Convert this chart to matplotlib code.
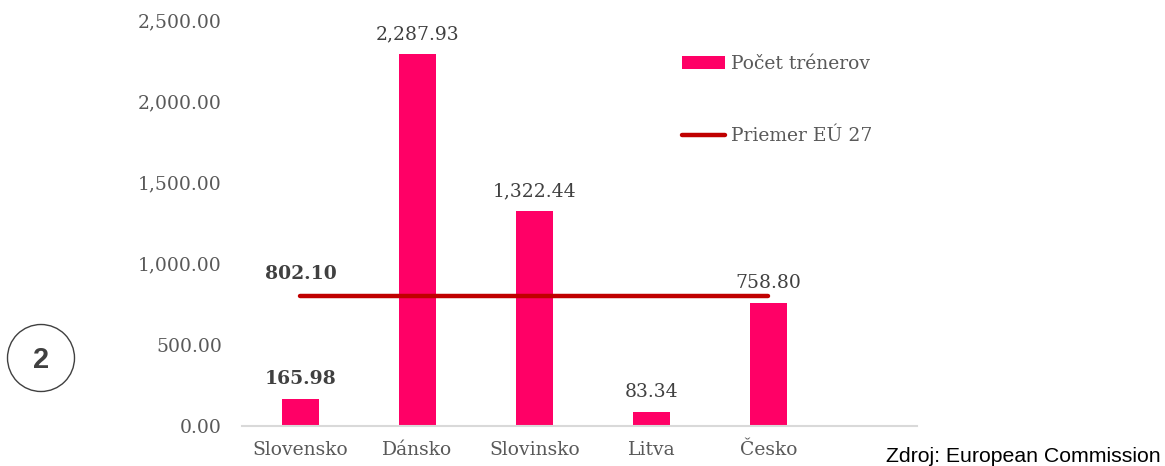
import matplotlib.pyplot as plt
from matplotlib.patches import Circle
from matplotlib.ticker import FuncFormatter

countries = ["Slovensko", "Dánsko", "Slovinsko", "Litva", "Česko"]
coaches = [165.98, 2287.93, 1322.44, 83.34, 758.80]
eu_avg = 802.10
y_ticks = [0, 500, 1000, 1500, 2000, 2500]

BAR_COLOR = "#FF0066"
LINE_COLOR = "#C00000"
TEXT_COLOR = "#595959"
SERIF = "DejaVu Serif"
FS = 13.5

fig = plt.figure(figsize=(11.65, 4.66), dpi=100)
ax = fig.add_axes([0.2077, 0.0858, 0.5794, 0.8712])

x = list(range(len(countries)))
bars = ax.bar(x, coaches, width=0.31, color=BAR_COLOR, label="Počet trénerov", zorder=2)
line, = ax.plot([x[0], x[-1]], [eu_avg, eu_avg], color=LINE_COLOR, lw=3.2,
                solid_capstyle="round", label="Priemer EÚ 27", zorder=3)

ax.set_xlim(-0.5, 5.27)
ax.set_ylim(0, 2500)
ax.set_yticks(y_ticks)
ax.yaxis.set_major_formatter(FuncFormatter(lambda v, p: f"{v:,.2f}"))
ax.set_xticks(x)
ax.set_xticklabels(countries)
ax.tick_params(length=0, labelsize=FS, labelcolor=TEXT_COLOR)
ax.tick_params(axis="y", pad=14.5)
ax.tick_params(axis="x", pad=11)
for lbl in ax.get_xticklabels() + ax.get_yticklabels():
    lbl.set_family(SERIF)

for side in ["top", "right", "left"]:
    ax.spines[side].set_visible(False)
ax.spines["bottom"].set_color("#D9D9D9")
ax.spines["bottom"].set_linewidth(1.5)

# data labels
for i, v in enumerate(coaches):
    ax.annotate(f"{v:,.2f}", (i, v), xytext=(0, 8), textcoords="offset points",
                ha="center", va="bottom", fontsize=FS, family=SERIF,
                color="#404040", fontweight="bold" if i == 0 else "normal")
ax.annotate(f"{eu_avg:,.2f}", (0, eu_avg), xytext=(0, 9), textcoords="offset points",
            ha="center", va="bottom", fontsize=FS, family=SERIF,
            color="#404040", fontweight="bold")

leg = ax.legend([bars, line], ["Počet trénerov", "Priemer EÚ 27"],
                loc="upper left", frameon=False,
                prop={"family": SERIF, "size": FS}, labelspacing=2.9,
                handlelength=2.3, handletextpad=0.3)
leg.set_bbox_to_anchor((665 / 1165, 1 - 38 / 466), transform=fig.transFigure)
for t in leg.get_texts():
    t.set_color(TEXT_COLOR)

# circled page number
circ = Circle((0.41, 4.66 - 3.58), 0.335, transform=fig.dpi_scale_trans,
              fill=False, edgecolor="#404040", lw=1.0)
fig.patches.append(circ)
fig.text(41 / 1165, 1 - 360 / 466, "2", ha="center", va="center", fontsize=21,
         fontweight="bold", color="#404040", family="Liberation Sans")

fig.text(0.996, 1 - 456 / 466, "Zdroj: European Commission", ha="right",
         va="center", fontsize=15.3, color="black", family="Liberation Sans")

fig.savefig("out.png", dpi=100)
